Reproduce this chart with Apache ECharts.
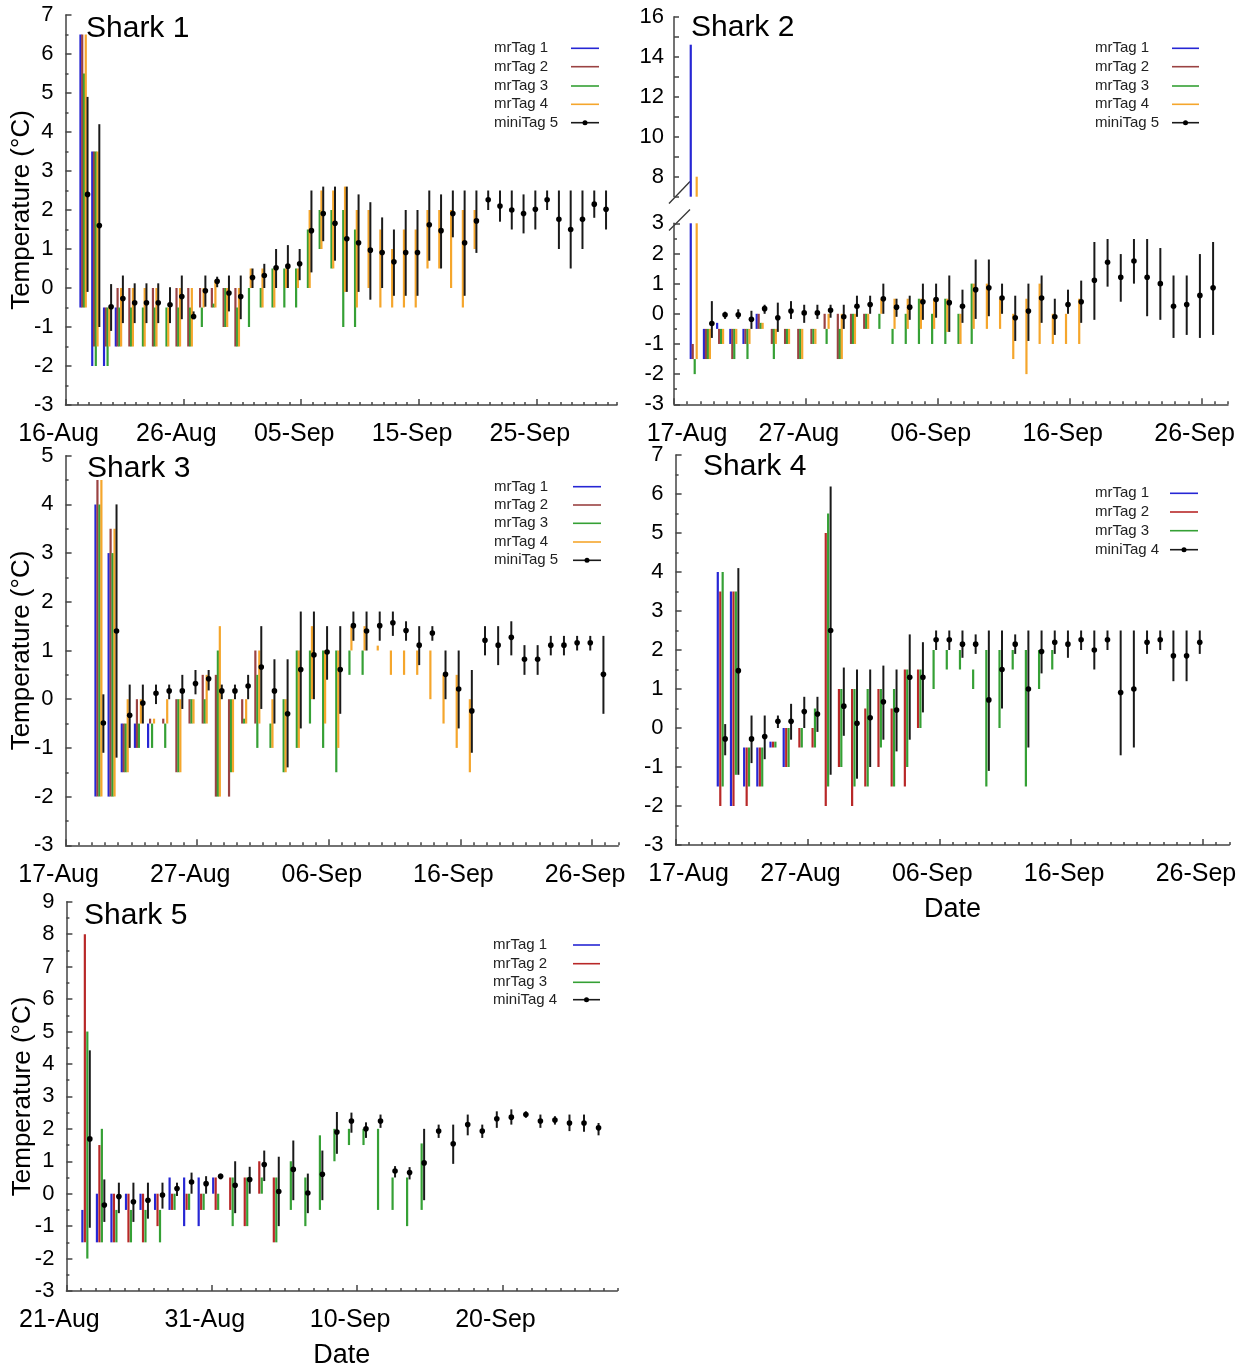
<!DOCTYPE html>
<html><head><meta charset="utf-8">
<script src="https://cdn.jsdelivr.net/npm/echarts@6/dist/echarts.min.js"></script>
<style>html,body{margin:0;padding:0;background:#fff}#c{width:1253px;height:1370px}</style>
</head><body><div id="c"></div>
<script>
// ---------- DATA ----------
// Shark 1 (day 0 = 16-Aug). range bars: [day, min, max]; miniTag: [day, mean, min, max]
const s1Ticks = ['16-Aug','26-Aug','05-Sep','15-Sep','25-Sep'];
const s1Tag1 = [[1,-0.5,6.5],[2,-2,3.5],[3,-2,-0.5],[4,-1.5,-0.5]];
const s1Tag2 = [[1,-0.5,6.5],[2,-1.5,3.5],[3,-1.5,-0.5],[4,-1.5,0],[5,-1.5,0],[7,-1.5,0],[9,-1.5,0],[10,-1.5,0],[11,-0.5,0],[12,-0.5,0],[13,-1,0],[14,-1.5,0]];
const s1Tag3 = [[1,-0.5,5.5],[2,-2,3.5],[3,-2,-0.5],[4,-1.5,-0.5],[5,-1.5,-0.5],[6,-1.5,-0.5],[7,-1.5,-0.5],[8,-1.5,-0.5],[9,-1.5,-0.5],[10,-1.5,-0.5],[11,-1,-0.5],[12,-0.5,-0.4],[13,-1,0],[14,-1.5,-0.5],[15,-1,0],[16,-0.5,0],[17,-0.5,0.5],[18,-0.5,0.5],[19,-0.5,0.5],[20,0,1.5],[21,1,2],[22,0.5,2],[23,-1,2],[24,-1,1.5]];
const s1Tag4 = [[1,-0.5,6.5],[2,-1.5,3.5],[3,-1.5,-0.5],[4,-1.5,0],[5,-1.5,0],[6,-1.5,0],[7,-1.5,0],[8,-1.5,-0.5],[9,-1.5,0],[10,-1.5,0],[11,-0.5,0],[12,-0.5,0.2],[13,-1,0],[14,-1.5,0],[15,0,0.5],[16,-0.5,0.5],[17,-0.5,0.5],[18,0,0.5],[19,0,0.5],[20,0,2],[21,1,2.5],[22,0.5,2.5],[23,-0.1,2.6],[24,-0.5,2],[25,0,2],[26,-0.5,1.5],[27,-0.5,1],[28,-0.5,1.5],[29,-0.5,1.5],[30,0.5,2],[31,0.5,2],[32,0,2],[33,-0.5,2],[34,1,2]];
const s1Mini = [[1,2.4,-0.1,4.9],[2,1.6,-1.0,4.2],[3,-0.48,-1.1,0.1],[4,-0.27,-0.9,0.32],[5,-0.38,-0.9,0.12],[6,-0.38,-0.9,0.12],[7,-0.38,-0.9,0.12],[8,-0.43,-0.9,0.02],[9,-0.22,-0.8,0.32],[10,-0.73,-0.8,-0.6],[11,-0.07,-0.48,0.32],[12,0.17,0.02,0.29],[13,-0.13,-0.6,0.32],[14,-0.22,-0.8,0.32],[15,0.27,0,0.5],[16,0.32,0,0.62],[17,0.52,0,1.0],[18,0.56,0,1.1],[19,0.62,0.2,1.0],[20,1.47,0.4,2.5],[21,1.91,1.2,2.6],[22,1.66,0.7,2.6],[23,1.26,-0.1,2.6],[24,1.16,-0.1,2.4],[25,0.97,-0.3,2.2],[26,0.91,0,1.81],[27,0.67,-0.2,1.5],[28,0.91,-0.2,2.0],[29,0.91,-0.2,2.0],[30,1.62,0.7,2.5],[31,1.47,0.5,2.4],[32,1.91,1.3,2.5],[33,1.16,-0.2,2.5],[34,1.72,0.9,2.5],[35,2.26,2.0,2.5],[36,2.1,1.7,2.5],[37,2.0,1.5,2.5],[38,1.91,1.4,2.4],[39,2.02,1.5,2.5],[40,2.26,2.0,2.5],[41,1.76,1.0,2.5],[42,1.5,0.5,2.5],[43,1.76,1.0,2.5],[44,2.15,1.8,2.5],[45,2.02,1.5,2.5]];

// Shark 2 (day 0 = 17-Aug)
const s2Ticks = ['17-Aug','27-Aug','06-Sep','16-Sep','26-Sep'];
const s2Tag1 = [[1,-1.5,14.6],[2,-1.5,-0.5],[3,-0.5,-0.3],[4,-1,-0.5],[5,-1,-0.5],[6,-0.5,0]];
const s2Tag2 = [[1,-1.5,-1],[2,-1.5,-0.5],[3,-1,-0.5],[4,-1.5,-0.5],[5,-1,-0.5],[6,-0.5,0],[7,-1,-0.5],[8,-1,-0.5],[9,-1.5,-0.5],[10,-1,-0.5],[11,-0.5,0],[12,-1.5,0],[13,-1,0],[14,-0.5,0]];
const s2Tag3 = [[1,-2,-1.5],[2,-1.5,-0.5],[3,-1,-0.5],[4,-1.5,-0.5],[5,-1.5,-0.5],[6,-0.5,-0.3],[7,-1.5,-0.5],[8,-1,-0.5],[9,-1.5,-0.5],[10,-1,-0.5],[11,-1,-0.5],[12,-1.5,-0.5],[13,-1,0],[14,-0.5,0],[15,-0.5,0],[16,-1,-0.5],[17,-1,0],[18,-1,0.5],[19,-1,0],[20,-1,0.5],[21,-1,0],[22,-1,1]];
const s2Tag4 = [[1,-1.5,8.0],[2,-1.5,-0.5],[3,-1,-0.5],[4,-1,-0.5],[5,-1,-0.5],[6,-0.5,-0.3],[7,-1,-0.5],[8,-1,-0.5],[9,-1.5,-0.5],[10,-1,-0.5],[11,-0.5,0],[12,-1.5,0],[13,-1,0],[14,-0.5,0],[15,0,0.5],[16,-0.5,0.5],[17,-0.5,0.5],[18,-0.5,0.5],[19,-0.5,0.5],[20,-0.6,0.5],[21,-1,0],[22,-0.5,1],[23,-0.5,1],[24,-0.5,0.5],[25,-1.5,0],[26,-2,0.5],[27,-1,1],[28,-1,0],[29,-1,0],[30,-1,0.5]];
const s2Mini = [[2,-0.32,-0.8,0.42],[3,-0.03,-0.17,0.07],[4,-0.03,-0.17,0.15],[5,-0.18,-0.5,0.1],[6,0.17,0,0.3],[7,-0.13,-0.6,0.37],[8,0.09,-0.17,0.42],[9,0.03,-0.3,0.3],[10,0.03,-0.17,0.3],[11,0.12,-0.13,0.3],[12,-0.1,-0.5,0.3],[13,0.25,-0.1,0.6],[14,0.31,0,0.6],[15,0.5,0,1.0],[16,0.22,-0.1,0.5],[17,0.22,-0.2,0.6],[18,0.4,-0.2,1.0],[19,0.47,-0.13,1.0],[20,0.37,-0.6,1.27],[21,0.25,-0.3,0.8],[22,0.8,-0.17,1.8],[23,0.86,-0.08,1.8],[24,0.52,0,1.0],[25,-0.13,-0.9,0.6],[26,0.09,-0.9,1.0],[27,0.52,-0.3,1.27],[28,-0.1,-0.7,0.5],[29,0.31,0,0.8],[30,0.4,-0.3,1.1],[31,1.11,-0.2,2.38],[32,1.71,0.9,2.48],[33,1.21,0.4,1.98],[34,1.75,1.0,2.48],[35,1.21,-0.08,2.48],[36,1.0,-0.2,2.18],[37,0.25,-0.8,1.27],[38,0.31,-0.7,1.27],[39,0.61,-0.8,1.98],[40,0.86,-0.7,2.38]];

// Shark 3 (day 0 = 17-Aug)
const s3Ticks = ['17-Aug','27-Aug','06-Sep','16-Sep','26-Sep'];
const s3Tag1 = [[2,-2,4],[3,-2,3],[4,-1.5,-0.5],[5,-1,-0.5],[6,-1,-0.5]];
const s3Tag2 = [[2,-2,4.5],[3,-2,3.5],[4,-1.5,-0.5],[5,-1,0],[6,-0.5,-0.4],[7,-0.5,-0.4],[8,-1.5,0],[9,-0.5,0],[10,-0.5,0.5],[11,-2,0.5],[12,-2,0],[13,-0.5,0],[14,-0.5,1]];
const s3Tag3 = [[2,-2,4],[3,-2,3],[4,-1.5,-0.5],[5,-1,-0.5],[6,-1,-0.5],[7,-1,-0.5],[8,-1.5,0],[9,-0.5,0],[10,-0.5,0],[11,-2,1],[12,-1.5,0],[13,-0.5,-0.4],[14,-1,0.5],[15,-1,-0.5],[16,-1.5,0],[17,-1,1],[18,-0.5,1],[19,-1,1],[20,-1.5,1],[21,0.5,1],[22,0.5,1]];
const s3Tag4 = [[2,-2,4.5],[3,-2,3.5],[4,-1.5,0],[5,-0.5,0],[6,-0.5,-0.4],[7,-0.5,0],[8,-1.5,0],[9,-0.5,0],[10,-0.5,0.5],[11,-2,1.5],[12,-1.5,0],[13,-0.5,0],[14,-0.5,1],[15,-1,0],[16,-1.5,0],[17,-1,1],[18,0,1.5],[19,-0.5,1],[20,-1,1],[21,1,1.5],[22,1,1.5],[23,1,1.1],[24,0.5,1],[25,0.5,1],[26,0.5,1],[27,0,1],[28,-0.5,0.5],[29,-1,0.5],[30,-1.5,0]];
const s3Mini = [[2,-0.49,-1.1,0.1],[3,1.4,-1.2,4.0],[4,-0.33,-1.0,0.3],[5,-0.08,-0.5,0.3],[6,0.12,-0.1,0.3],[7,0.17,0,0.3],[8,0.17,-0.2,0.5],[9,0.32,0.1,0.6],[10,0.42,0.18,0.6],[11,0.17,0,0.3],[12,0.17,0,0.3],[13,0.27,0,0.5],[14,0.66,-0.2,1.5],[15,0.17,-0.5,0.82],[16,-0.3,-1.4,0.82],[17,0.61,-0.6,1.8],[18,0.91,0,1.8],[19,0.97,0.4,1.5],[20,0.61,-0.3,1.5],[21,1.51,1.2,1.8],[22,1.4,1.0,1.8],[23,1.51,1.2,1.8],[24,1.57,1.3,1.8],[25,1.41,1.2,1.6],[26,1.11,0.7,1.5],[27,1.36,1.2,1.5],[28,0.51,0,1.0],[29,0.21,-0.6,1.0],[30,-0.24,-1.1,0.6],[31,1.21,0.9,1.5],[32,1.11,0.7,1.5],[33,1.27,0.9,1.6],[34,0.82,0.5,1.11],[35,0.82,0.5,1.11],[36,1.11,0.9,1.3],[37,1.11,0.9,1.3],[38,1.16,1.0,1.3],[39,1.16,1.0,1.3],[40,0.51,-0.3,1.3]];

// Shark 4 (day 0 = 17-Aug)
const s4Ticks = ['17-Aug','27-Aug','06-Sep','16-Sep','26-Sep'];
const s4Tag1 = [[3,-1.5,4],[4,-2,3.5],[5,-1.5,-0.5],[6,-1.5,-0.5],[7,-0.5,-0.35],[8,-1,0]];
const s4Tag2 = [[3,-2,3.5],[4,-2,3.5],[5,-2,-0.5],[6,-1.5,-0.5],[7,-0.5,-0.35],[8,-1,0],[9,-0.5,0],[10,-0.5,0],[11,-2,5],[12,-1,1],[13,-2,1],[14,-1.5,0.5],[15,-1,1],[16,-1.5,0.5],[17,-1.5,1.5],[18,0,1.5]];
const s4Tag3 = [[3,-1.5,4],[4,-1.2,3.5],[5,-1.5,-0.5],[6,-1.5,-0.5],[7,-0.5,-0.35],[8,-1,0],[9,-0.5,0],[10,-0.5,0.5],[11,-1.5,5.5],[12,-1,1],[13,-1.5,1],[14,-1.5,1],[15,-0.5,1],[16,-1.5,1],[17,-1,1.5],[18,0,1.5],[19,1,2],[20,1.5,2],[21,1.5,2],[22,1,1.5],[23,-1.5,2],[24,0,2],[25,1.5,2],[26,-1.5,2],[27,1,2],[28,1.5,2]];
const s4Mini = [[3,-0.28,-0.7,0.1],[4,1.47,-1.2,4.1],[5,-0.28,-0.9,0.32],[6,-0.22,-0.8,0.32],[7,0.17,0,0.32],[8,0.17,-0.3,0.62],[9,0.42,0,0.8],[10,0.36,-0.1,0.8],[11,2.5,-1.2,6.19],[12,0.56,-0.2,1.55],[13,0.12,-1.3,1.5],[14,0.26,-1.0,1.5],[15,0.67,-0.3,1.6],[16,0.46,-0.6,1.5],[17,1.3,-0.3,2.4],[18,1.3,0.4,2.2],[19,2.26,2.0,2.5],[20,2.26,2.0,2.5],[21,2.15,1.8,2.5],[22,2.15,1.9,2.4],[23,0.72,-1.1,2.5],[24,1.5,0.5,2.5],[25,2.15,1.9,2.4],[26,1.0,-0.5,2.5],[27,1.96,1.4,2.5],[28,2.2,1.9,2.5],[29,2.15,1.8,2.5],[30,2.26,2.0,2.5],[31,2.0,1.5,2.5],[32,2.26,2.0,2.5],[33,0.91,-0.7,2.5],[34,1.0,-0.5,2.5],[35,2.2,1.9,2.5],[36,2.26,2.0,2.5],[37,1.85,1.2,2.5],[38,1.85,1.2,2.5],[39,2.2,1.9,2.5]];

// Shark 5 (day 0 = 21-Aug)
const s5Ticks = ['21-Aug','31-Aug','10-Sep','20-Sep'];
const s5Tag1 = [[1,-1.5,-0.5],[2,-1.5,0],[3,-1.5,0],[4,-0.5,0],[5,-0.5,0],[6,-0.5,0],[7,-0.5,0.5],[8,-1,0.5],[9,-1,0.5],[10,0,0.5]];
const s5Tag2 = [[1,-1.5,8],[2,-1.5,1.5],[3,-1.5,0],[4,-1.5,0],[5,-1.5,0],[6,-1,0],[7,-0.5,0],[8,-0.5,0],[9,-0.5,0],[10,-0.5,0.5],[11,-0.5,0.5],[12,-1,0.5],[13,0,1],[14,-1.5,0.5]];
const s5Tag3 = [[1,-2,5],[2,-1.5,2],[3,-1.5,-0.5],[4,-1.5,-0.5],[5,-1.5,-0.5],[6,-1.5,-0.5],[7,-0.5,0],[8,-0.5,0],[9,-0.5,0],[10,-0.5,0],[11,-1,0.5],[12,-1,0.5],[13,0,0.5],[14,-1.5,0.5],[15,-0.5,1],[16,-1,0.5],[17,-0.5,1.8],[18,1,2],[19,1.5,2],[20,1.5,2],[21,-0.5,2],[22,-0.5,0.5],[23,-1,0.5],[24,-0.5,1.55]];
const s5Mini = [[1,1.69,-1.05,4.42],[2,-0.35,-0.87,0.44],[3,-0.09,-0.6,0.34],[4,-0.25,-0.87,0.34],[5,-0.2,-0.77,0.34],[6,-0.04,-0.46,0.34],[7,0.16,-0.07,0.34],[8,0.36,0,0.65],[9,0.31,0,0.54],[10,0.54,0.44,0.62],[11,0.26,-0.6,1.0],[12,0.44,0,0.83],[13,0.9,0.39,1.33],[14,0.07,-1.0,1.14],[15,0.75,-0.2,1.64],[16,0.02,-0.6,0.62],[17,0.6,-0.2,1.33],[18,1.9,1.23,2.52],[19,2.24,1.88,2.5],[20,2.0,1.72,2.2],[21,2.24,2.03,2.44],[22,0.7,0.5,0.85],[23,0.65,0.44,0.82],[24,0.95,-0.2,2.0],[25,1.93,1.72,2.13],[26,1.54,0.92,2.13],[27,2.13,1.8,2.44],[28,1.93,1.72,2.13],[29,2.31,2.03,2.54],[30,2.36,2.13,2.6],[31,2.44,2.34,2.54],[32,2.24,2.03,2.44],[33,2.27,2.13,2.39],[34,2.18,1.93,2.44],[35,2.18,1.91,2.44],[36,2.03,1.8,2.18]];

const legend5 = ['mrTag 1','mrTag 2','mrTag 3','mrTag 4','miniTag 5'];
const legend4 = ['mrTag 1','mrTag 2','mrTag 3','miniTag 4'];

// ---------- STYLE ----------
const FONT = '"Liberation Sans", Arial, sans-serif';
const C_BLUE = '#2626d4', C_BROWN = '#9a4242', C_RED = '#b82828', C_GREEN = '#35a035', C_ORANGE = '#f5a62c', C_BLACK = '#1a1a1a';
const AX = {color:'#444', width:1.5};

function rangeSeries(name, data, color, off, xi, yi) {
  return {
    type:'custom', name, xAxisIndex:xi, yAxisIndex:yi, data, encode:{x:0, y:[1,2]},
    renderItem(params, api) {
      const x = api.value(0) + off;
      const a = api.coord([x, api.value(1)]);
      const b = api.coord([x, api.value(2)]);
      const cs = params.coordSys;
      const top = cs.y, bot = cs.y + cs.height;
      let y1 = Math.min(a[1], b[1]), y2 = Math.max(a[1], b[1]);
      if (y2 < top || y1 > bot) return null;
      y1 = Math.max(y1, top); y2 = Math.min(y2, bot);
      return {type:'line', shape:{x1:a[0], y1, x2:a[0], y2}, style:{stroke:color, lineWidth:2.2}};
    }
  };
}
function miniSeries(name, data, off, xi, yi) {
  return {
    type:'custom', name, xAxisIndex:xi, yAxisIndex:yi, data, encode:{x:0, y:[1,2,3]}, z:5,
    renderItem(params, api) {
      const x = api.value(0) + off;
      const m = api.coord([x, api.value(1)]);
      const lo = api.coord([x, api.value(2)]);
      const hi = api.coord([x, api.value(3)]);
      return {type:'group', children:[
        {type:'line', shape:{x1:lo[0], y1:lo[1], x2:hi[0], y2:hi[1]}, style:{stroke:C_BLACK, lineWidth:2}},
        {type:'circle', shape:{cx:m[0], cy:m[1], r:2.8}, style:{fill:'#000'}}
      ]};
    }
  };
}

function xMinor(gi, max) {
  return {gridIndex:gi, type:'value', position:'bottom', min:0, max, interval:1,
    axisLine:{show:true, onZero:false, lineStyle:AX}, axisTick:{show:true, inside:true, length:3, lineStyle:AX},
    axisLabel:{show:false}, splitLine:{show:false}};
}
function xMajor(gi, max, labels, richFirst, name) {
  const vals = labels.map((_, i) => i * 10);
  return {gridIndex:gi, type:'value', position:'bottom', min:0, max,
    axisLine:{show:false, onZero:false}, splitLine:{show:false},
    axisTick:{show:true, inside:true, length:6, lineStyle:AX, customValues:vals},
    axisLabel:{show:true, customValues:vals, fontSize:25, fontFamily:FONT, color:'#000', margin:17,
      padding:[0,14,0,0],
      formatter:(v) => { const i = Math.round(v/10); return (richFirst && i === 0) ? '{f|' + labels[i] + '}' : labels[i]; },
      rich:{f:{fontSize:25, fontFamily:FONT, color:'#000', padding:[0,0,0,40]}}},
    name: name || '', nameLocation:'middle', nameGap:51, nameMoveOverlap:false,
    nameTextStyle:{fontSize:27, fontFamily:FONT, color:'#000'}};
}
function yAx(gi, min, max, withName, margin, opts) {
  const o = {gridIndex:gi, type:'value', position:'left', min, max, interval:1,
    axisLine:{show:true, onZero:false, lineStyle:AX}, axisTick:{show:true, inside:true, length:6, lineStyle:AX},
    minorTick:{show:true, splitNumber:2, length:3, lineStyle:AX},
    axisLabel:{fontSize:22, fontFamily:FONT, color:'#000', margin},
    splitLine:{show:false}, minorSplitLine:{show:false},
    name: withName ? 'Temperature (°C)' : '', nameLocation:'middle', nameGap:31, nameMoveOverlap:false,
    nameTextStyle:{fontSize:26, fontFamily:FONT, color:'#000'}};
  return Object.assign(o, opts || {});
}

// grids: 0 Shark1, 1 Shark2 upper, 2 Shark2 lower, 3 Shark3, 4 Shark4, 5 Shark5
const grid = [
  {left:65.5, top:15, width:551.5, height:390},
  {left:674, top:16.7, width:554, height:180},
  {left:674, top:223.3, width:554, height:181},
  {left:65.6, top:455.7, width:552.7, height:389.6},
  {left:675.6, top:455, width:553.7, height:390},
  {left:66.4, top:901.8, width:550.9, height:390}
];
const xAxis = [
  xMinor(0, 46.8), xMajor(0, 46.8, s1Ticks, false),                 // 0,1
  {gridIndex:1, type:'value', min:0, max:42, show:false},              // 2
  xMinor(2, 42), xMajor(2, 42, s2Ticks, true),                        // 3,4
  xMinor(3, 42), xMajor(3, 42, s3Ticks, false),                       // 5,6
  xMinor(4, 42), xMajor(4, 42, s4Ticks, true, 'Date'),                // 7,8
  xMinor(5, 37.9), xMajor(5, 37.9, s5Ticks, false, 'Date')            // 9,10
];
const yAxis = [
  yAx(0, -3, 7, true, 12),
  yAx(1, 7, 16, false, 10, {minorTick:{show:false}, axisTick:{show:true, inside:true, length:5, lineStyle:AX},
      axisLabel:{fontSize:22, fontFamily:FONT, color:'#000', margin:10, formatter:(v)=> (v % 2 === 0 ? String(v) : '')}}),
  yAx(2, -3, 3, false, 10),
  yAx(3, -3, 5, true, 12),
  yAx(4, -3, 7, false, 12),
  yAx(5, -3, 9, true, 12)
];

const O5 = [0.27, 0.42, 0.57, 0.72, 0.87];
const O4 = [0.2, 0.39, 0.57, 0.76];
const O5b = [0.1, 0.27, 0.44, 0.61];
const series = [
  rangeSeries('mrTag 1', s1Tag1, C_BLUE, O5[0], 0, 0),
  rangeSeries('mrTag 2', s1Tag2, C_BROWN, O5[1], 0, 0),
  rangeSeries('mrTag 3', s1Tag3, C_GREEN, O5[2], 0, 0),
  rangeSeries('mrTag 4', s1Tag4, C_ORANGE, O5[3], 0, 0),
  miniSeries('miniTag 5', s1Mini, O5[4], 0, 0),

  rangeSeries('mrTag 1', s2Tag1, C_BLUE, O5[0], 2, 1),
  rangeSeries('mrTag 4', s2Tag4, C_ORANGE, O5[3], 2, 1),
  rangeSeries('mrTag 1', s2Tag1, C_BLUE, O5[0], 3, 2),
  rangeSeries('mrTag 2', s2Tag2, C_BROWN, O5[1], 3, 2),
  rangeSeries('mrTag 3', s2Tag3, C_GREEN, O5[2], 3, 2),
  rangeSeries('mrTag 4', s2Tag4, C_ORANGE, O5[3], 3, 2),
  miniSeries('miniTag 5', s2Mini, O5[4], 3, 2),

  rangeSeries('mrTag 1', s3Tag1, C_BLUE, O5[0], 5, 3),
  rangeSeries('mrTag 2', s3Tag2, C_BROWN, O5[1], 5, 3),
  rangeSeries('mrTag 3', s3Tag3, C_GREEN, O5[2], 5, 3),
  rangeSeries('mrTag 4', s3Tag4, C_ORANGE, O5[3], 5, 3),
  miniSeries('miniTag 5', s3Mini, O5[4], 5, 3),

  rangeSeries('mrTag 1', s4Tag1, C_BLUE, O4[0], 7, 4),
  rangeSeries('mrTag 2', s4Tag2, C_RED, O4[1], 7, 4),
  rangeSeries('mrTag 3', s4Tag3, C_GREEN, O4[2], 7, 4),
  miniSeries('miniTag 4', s4Mini, O4[3], 7, 4),

  rangeSeries('mrTag 1', s5Tag1, C_BLUE, O5b[0], 9, 5),
  rangeSeries('mrTag 2', s5Tag2, C_RED, O5b[1], 9, 5),
  rangeSeries('mrTag 3', s5Tag3, C_GREEN, O5b[2], 9, 5),
  miniSeries('miniTag 4', s5Mini, O5b[3], 9, 5)
];

// legends drawn as graphics (text left, line sample right)
function legendBlock(names, colors, tx, rows, lx1, lx2) {
  const els = [];
  names.forEach((n, i) => {
    const y = rows[i];
    els.push({type:'text', x:tx, y, style:{text:n, fontSize:15, fontFamily:FONT, fill:'#222', verticalAlign:'middle', align:'left'}});
    els.push({type:'line', shape:{x1:lx1, y1:y, x2:lx2, y2:y}, style:{stroke:colors[i], lineWidth:1.6}});
    if (n.indexOf('mini') === 0) els.push({type:'circle', shape:{cx:(lx1+lx2)/2, cy:y, r:2.5}, style:{fill:'#000'}});
  });
  return els;
}
const col5 = [C_BLUE, C_BROWN, C_GREEN, C_ORANGE, C_BLACK];
const col4 = [C_BLUE, C_RED, C_GREEN, C_BLACK];
const graphic = [].concat(
  legendBlock(legend5, col5, 494, [48.3,66.7,86,104.3,122.7], 571, 599),
  legendBlock(legend5, col5, 1095, [48.3,66.7,86,104.3,122.7], 1172, 1199),
  legendBlock(legend5, col5, 494, [486.7,505,523.3,542,560.3], 573, 601),
  legendBlock(legend4, col4, 1095, [493.3,512,530.7,549.7], 1170, 1198),
  legendBlock(legend4, col4, 493, [945,963.7,982.3,999.7], 573, 600),
  [
    {type:'line', shape:{x1:669, y1:203.5, x2:690, y2:181.5}, style:{stroke:'#333', lineWidth:1.3}},
    {type:'line', shape:{x1:669, y1:230.5, x2:690, y2:209.5}, style:{stroke:'#333', lineWidth:1.3}}
  ]
);

const TS = {fontSize:30, fontWeight:'normal', fontFamily:FONT, color:'#000'};
const title = [
  {text:'Shark 1', left:86, top:14, padding:0, textStyle:TS},
  {text:'Shark 2', left:691, top:13, padding:0, textStyle:TS},
  {text:'Shark 3', left:87, top:454, padding:0, textStyle:TS},
  {text:'Shark 4', left:703, top:452, padding:0, textStyle:TS},
  {text:'Shark 5', left:84, top:901, padding:0, textStyle:TS}
];

const chart = echarts.init(document.getElementById('c'), null, {renderer:'canvas'});
chart.setOption({backgroundColor:'#fff', animation:false, title, grid, xAxis, yAxis, series, graphic});
</script></body></html>
